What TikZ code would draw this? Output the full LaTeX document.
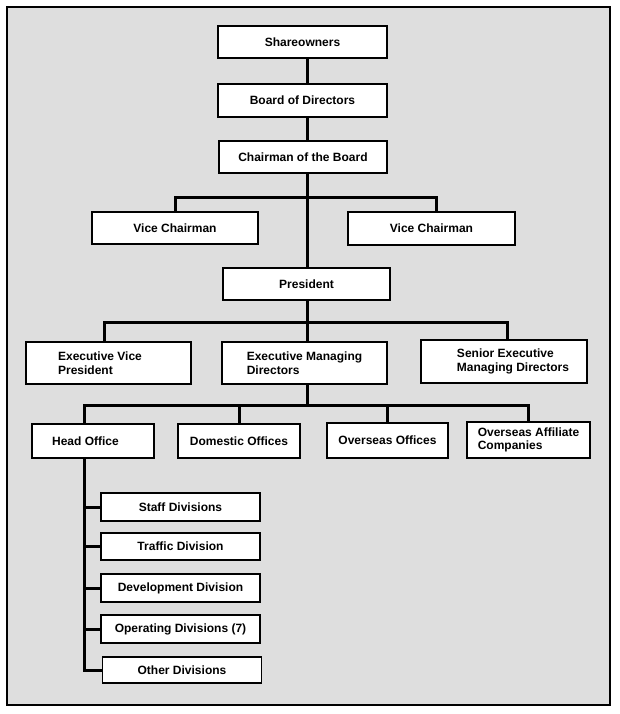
\documentclass[tikz,border=0pt]{standalone}
\usepackage{fontspec}
\setmainfont{Liberation Sans}
\definecolor{bg}{gray}{0.87}
\begin{document}
\begin{tikzpicture}[x=1pt,y=-1pt,
  box/.style={draw=black, line width=1.8pt, fill=white, inner sep=0pt,
    font=\bfseries\fontsize{12}{13.5}\selectfont},
  wide/.style={minimum width=166pt, minimum height=32pt},
  office/.style={minimum width=122pt, minimum height=34pt},
  sub/.style={minimum width=159pt, minimum height=27pt},
  conn/.style={line width=3pt, line join=miter},
  frame/.style={draw=black, line width=2pt, fill=bg}]
\useasboundingbox (0,0) rectangle (620,714);
\path[frame] (7,7) rectangle (610,705);

% top chain
\node[box, wide, minimum width=169pt] (sh) at (302.5,42) {Shareowners};
\node[box, wide, minimum width=169pt, minimum height=33pt] (bd) at (302.5,100.5) {Board of Directors};
\node[box, wide, minimum width=168pt] (ch) at (303,157) {Chairman of the Board};
\node[box, wide] (vc1) at (175,228) {Vice Chairman};
\node[box, wide, minimum width=167pt, minimum height=33pt] (vc2) at (431.5,228.5) {Vice Chairman};
\node[box, wide, minimum width=167pt] (pr) at (306.5,284) {President};

% executives
\node[box, wide, minimum width=165pt, minimum height=42pt, align=left] (evp) at (108.5,363) {Executive Vice\hspace*{17pt}\\President};
\node[box, wide, minimum width=165pt, minimum height=42pt, align=left] (emd) at (304.5,363) {Executive Managing\\Directors};
\node[box, wide, minimum width=166pt, minimum height=43pt, align=left] (semd) at (504,361.5) {\hspace*{18pt}Senior Executive\\\hspace*{18pt}Managing Directors};

% offices
\node[box, office] (ho) at (93,441) {Head Office\hspace*{15pt}};
\node[box, office] (dom) at (239,441) {Domestic Offices};
\node[box, office, minimum width=121pt, minimum height=35pt] (ovo) at (387.5,440.5) {Overseas Offices};
\node[box, office, minimum width=123pt, minimum height=36pt, align=left] (ova) at (528.5,440) {Overseas Affiliate\\Companies};

% divisions
\node[box, sub, minimum height=28pt] (staff) at (180.5,507) {Staff Divisions};
\node[box, sub] (traffic) at (180.5,546.5) {Traffic Division};
\node[box, sub, minimum height=28pt] (dev) at (180.5,588) {Development Division};
\node[box, sub, minimum height=28pt] (op) at (180.5,629) {Operating Divisions (7)};
\node[box, sub, minimum height=26pt] (other) at (182,670) {Other Divisions};

% helper coordinates
\coordinate (spine) at (307,0);
\coordinate (bar1) at (0,197);
\coordinate (bar2) at (0,322);
\coordinate (bar3) at (0,405);
\coordinate (vc2top) at ([xshift=4.5pt]vc2.north);
\coordinate (evptop) at ([xshift=-4.5pt]evp.north);
\coordinate (semdtop) at ([xshift=3pt]semd.north);
\coordinate (hotop) at ([xshift=-9pt]ho.north);
\coordinate (hobot) at ([xshift=-9pt]ho.south);

% connectors
\draw[conn] (sh.south -| spine) -- (bd.north -| spine);
\draw[conn] (bd.south -| spine) -- (ch.north -| spine);
\draw[conn] (ch.south -| spine) -- (pr.north -| spine);
\draw[conn] (vc1.north) |- (bar1 -| vc2top) -- (vc2top);
\draw[conn] (pr.south -| spine) -- (emd.north -| spine);
\draw[conn] (evptop) |- (bar2 -| semdtop) -- (semdtop);
\draw[conn] (emd.south -| spine) -- (bar3 -| spine);
\draw[conn] (hotop) |- (bar3 -| ova.north) -- (ova.north);
\draw[conn] (dom.north) -- (bar3 -| dom.north);
\draw[conn] (ovo.north) -- (bar3 -| ovo.north);
\draw[conn] (hobot) |- (other.west);
\foreach \n in {staff,traffic,dev,op}
  \draw[conn] (hobot |- \n.west) -- (\n.west);
\end{tikzpicture}
\end{document}
